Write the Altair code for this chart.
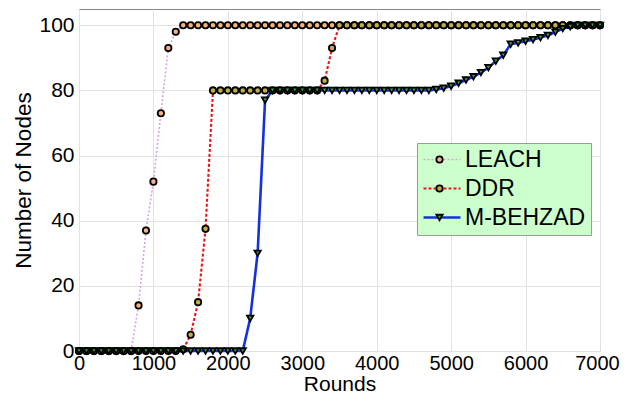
import altair as alt
import pandas as pd

rounds = [0, 100, 200, 300, 400, 500, 600, 700, 800, 900,
          1000, 1100, 1200, 1300, 1400, 1500, 1600, 1700, 1800, 1900,
          2000, 2100, 2200, 2300, 2400, 2500, 2600, 2700, 2800, 2900,
          3000, 3100, 3200, 3300, 3400, 3500, 3600, 3700, 3800, 3900,
          4000, 4100, 4200, 4300, 4400, 4500, 4600, 4700, 4800, 4900,
          5000, 5100, 5200, 5300, 5400, 5500, 5600, 5700, 5800, 5900,
          6000, 6100, 6200, 6300, 6400, 6500, 6600, 6700, 6800, 6900,
          7000]

leach = [0, 0, 0, 0, 0, 0, 0, 0, 14, 37,
         52, 73, 93, 98, 100, 100, 100, 100, 100, 100,
         100, 100, 100, 100, 100, 100, 100, 100, 100, 100,
         100, 100, 100, 100, 100, 100, 100, 100, 100, 100,
         100, 100, 100, 100, 100, 100, 100, 100, 100, 100,
         100, 100, 100, 100, 100, 100, 100, 100, 100, 100,
         100, 100, 100, 100, 100, 100, 100, 100, 100, 100,
         100]

ddr = [0, 0, 0, 0, 0, 0, 0, 0, 0, 0,
       0, 0, 0, 0, 0.5, 5, 15, 37.5, 80, 80,
       80, 80, 80, 80, 80, 80, 80, 80, 80, 80,
       80, 80, 80, 83, 93, 100, 100, 100, 100, 100,
       100, 100, 100, 100, 100, 100, 100, 100, 100, 100,
       100, 100, 100, 100, 100, 100, 100, 100, 100, 100,
       100, 100, 100, 100, 100, 100, 100, 100, 100, 100,
       100]

mbehzad = [0, 0, 0, 0, 0, 0, 0, 0, 0, 0,
           0, 0, 0, 0, 0, 0, 0, 0, 0, 0,
           0, 0, 0, 10, 30, 77, 80, 80, 80, 80,
           80, 80, 80, 80, 80, 80, 80, 80, 80, 80,
           80, 80, 80, 80, 80, 80, 80, 80, 80.3, 80.7,
           81.3, 82.2, 83.2, 84.2, 85.5, 87, 89, 90.8, 94.2, 94.6,
           95.1, 95.6, 96.2, 96.9, 97.9, 99.0, 99.6, 100, 100, 100,
           100]

series_names = ["LEACH", "DDR", "M-BEHZAD"]
marker_keys = ["LEACH_m", "DDR_m", "M-BEHZAD_m"]
line_colors = ["#D6A4DA", "#E8161B", "#1430E0"]
line_dashes = [[2, 2], [3, 2], [1, 0]]
line_widths = [1.6, 2.6, 2.2]
marker_fills = ["#F5B37E", "#C2AE44", "#34A83C"]
marker_shapes = ["circle", "circle", "triangle-down"]
x_ticks = [0, 1000, 2000, 3000, 4000, 5000, 6000, 7000]
y_ticks = [0, 20, 40, 60, 80, 100]

rows = []
for name, key, vals in zip(series_names, marker_keys, [leach, ddr, mbehzad]):
    for r, v in zip(rounds, vals):
        rows.append({"series": name, "series_b": key, "round": r, "value": v})
df = pd.DataFrame(rows)

FONT = "Liberation Sans"

x_enc = alt.X("round:Q",
              scale=alt.Scale(domain=[0, 7000], nice=False, zero=False),
              axis=alt.Axis(values=x_ticks, format="d", title="Rounds",
                            labelFlush=False, labelFontSize=20,
                            labelPadding=2, titlePadding=0, titleFontSize=21,
                            labelOffset={"condition": {"test": "datum.value == 7000", "value": -3}, "value": 0}))
y_enc = alt.Y("value:Q",
              scale=alt.Scale(domain=[0, 105], nice=False),
              axis=alt.Axis(values=y_ticks, format="d", title="Number of Nodes",
                            labelFlush=False, labelPadding=5, titlePadding=3))

lines = alt.Chart(df).mark_line(strokeCap="butt").encode(
    x=x_enc,
    y=y_enc,
    stroke=alt.Stroke("series:N",
                      scale=alt.Scale(domain=series_names, range=line_colors),
                      legend=alt.Legend(title=None, orient="none", legendX=338, legendY=134,
                                        fillColor="#CCFFCC", strokeColor="#9a9a9a",
                                        padding=5, symbolType="stroke", symbolSize=1369,
                                        clipHeight=23, labelFont=FONT, labelFontSize=23,
                                        labelColor="black", labelOffset=3, rowPadding=5,
                                        labelLimit=0, zindex=1)),
    strokeDash=alt.StrokeDash("series:N",
                              scale=alt.Scale(domain=series_names, range=line_dashes)),
    strokeWidth=alt.StrokeWidth("series:N",
                                scale=alt.Scale(domain=series_names, range=line_widths)),
)

points = alt.Chart(df).mark_point(filled=True, size=40, stroke="black",
                                  strokeWidth=1.8, opacity=1).encode(
    x=x_enc,
    y=y_enc,
    fill=alt.Fill("series_b:N",
                  scale=alt.Scale(domain=marker_keys, range=marker_fills),
                  legend=alt.Legend(title=None, orient="none", legendX=344, legendY=134,
                                    padding=5, symbolSize=40, symbolStrokeWidth=1.8,
                                    symbolStrokeColor="black", clipHeight=23,
                                    labelFont=FONT, labelFontSize=23, labelExpr="''",
                                    labelOffset=3, rowPadding=5, zindex=2)),
    shape=alt.Shape("series_b:N",
                    scale=alt.Scale(domain=marker_keys, range=marker_shapes)),
)

chart = alt.layer(lines, points).properties(
    width=521, height=342,
    padding={"left": 71, "top": 1, "right": 20, "bottom": 44},
    autosize="none",
).configure_view(
    stroke="#858585", strokeWidth=1
).configure_axis(
    labelFont=FONT, labelFontSize=21, labelColor="black",
    titleFont=FONT, titleFontSize=22.5, titleFontWeight="normal", titleColor="black",
    grid=True, gridColor="#e2e2e2", gridWidth=1,
    ticks=False, domain=False
)

chart.save("out.html", embed_options={"renderer": "svg", "actions": False})
